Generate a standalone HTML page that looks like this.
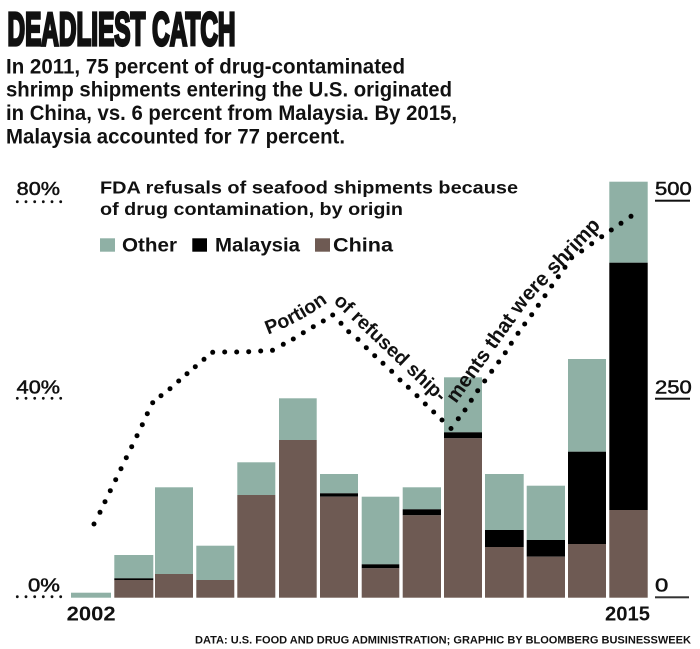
<!DOCTYPE html>
<html>
<head>
<meta charset="utf-8">
<style>
  html,body{margin:0;padding:0;background:#fff;}
  svg{display:block;}
  text{font-family:"Liberation Sans",sans-serif;fill:#111;}
</style>
</head>
<body>
<svg width="700" height="649" viewBox="0 0 700 649" xmlns="http://www.w3.org/2000/svg">
  <rect width="700" height="649" fill="#fff"/>

  <!-- Headline -->
  <text x="7.5" y="44.8" font-size="46" font-weight="bold" stroke="#111" stroke-width="3.2" stroke-linejoin="miter" textLength="228" lengthAdjust="spacingAndGlyphs">DEADLIEST CATCH</text>

  <!-- Subtitle -->
  <g font-size="21.5" font-weight="bold">
    <text x="6" y="73.3" textLength="399" lengthAdjust="spacingAndGlyphs">In 2011, 75 percent of drug-contaminated</text>
    <text x="6" y="96.7" textLength="446" lengthAdjust="spacingAndGlyphs">shrimp shipments entering the U.S. originated</text>
    <text x="6" y="120" textLength="451" lengthAdjust="spacingAndGlyphs">in China, vs. 6 percent from Malaysia. By 2015,</text>
    <text x="6" y="143.3" textLength="339" lengthAdjust="spacingAndGlyphs">Malaysia accounted for 77 percent.</text>
  </g>

  <!-- Bars -->
  <g>
    <rect x="71" y="592.7" width="40" height="5" fill="#8fb0a5"/>
    <rect x="114.3" y="555" width="39" height="23.3" fill="#8fb0a5"/>
    <rect x="114.3" y="578.3" width="39" height="1.9" fill="#000"/>
    <rect x="114.3" y="580" width="39" height="17.7" fill="#6e5a53"/>
    <rect x="155" y="487.3" width="38" height="86.7" fill="#8fb0a5"/>
    <rect x="155" y="574" width="38" height="23.7" fill="#6e5a53"/>
    <rect x="196.3" y="545.7" width="38" height="34.3" fill="#8fb0a5"/>
    <rect x="196.3" y="580" width="38" height="17.7" fill="#6e5a53"/>
    <rect x="237.3" y="462.3" width="38" height="32.7" fill="#8fb0a5"/>
    <rect x="237.3" y="495" width="38" height="102.7" fill="#6e5a53"/>
    <rect x="279" y="398.3" width="37.7" height="41.7" fill="#8fb0a5"/>
    <rect x="279" y="440" width="37.7" height="157.7" fill="#6e5a53"/>
    <rect x="320" y="474" width="38" height="19.3" fill="#8fb0a5"/>
    <rect x="320" y="493.3" width="38" height="3.4" fill="#000"/>
    <rect x="320" y="496.7" width="38" height="101" fill="#6e5a53"/>
    <rect x="361.7" y="496.7" width="37.6" height="67.6" fill="#8fb0a5"/>
    <rect x="361.7" y="564.3" width="37.6" height="4" fill="#000"/>
    <rect x="361.7" y="568.3" width="37.6" height="29.4" fill="#6e5a53"/>
    <rect x="402.7" y="487.3" width="38.3" height="22" fill="#8fb0a5"/>
    <rect x="402.7" y="509.3" width="38.3" height="6" fill="#000"/>
    <rect x="402.7" y="515.3" width="38.3" height="82.4" fill="#6e5a53"/>
    <rect x="444" y="377.3" width="38" height="55" fill="#8fb0a5"/>
    <rect x="444" y="432.3" width="38" height="6" fill="#000"/>
    <rect x="444" y="438.3" width="38" height="159.4" fill="#6e5a53"/>
    <rect x="485" y="474" width="38.7" height="56" fill="#8fb0a5"/>
    <rect x="485" y="530" width="38.7" height="17" fill="#000"/>
    <rect x="485" y="547" width="38.7" height="50.7" fill="#6e5a53"/>
    <rect x="526.7" y="485.7" width="38.3" height="54.3" fill="#8fb0a5"/>
    <rect x="526.7" y="540" width="38.3" height="16.7" fill="#000"/>
    <rect x="526.7" y="556.7" width="38.3" height="41" fill="#6e5a53"/>
    <rect x="568" y="359" width="38" height="92.7" fill="#8fb0a5"/>
    <rect x="568" y="451.7" width="38" height="92.3" fill="#000"/>
    <rect x="568" y="544" width="38" height="53.7" fill="#6e5a53"/>
    <rect x="609.3" y="181.7" width="38.4" height="81" fill="#8fb0a5"/>
    <rect x="609.3" y="262.7" width="38.4" height="247.3" fill="#000"/>
    <rect x="609.3" y="510" width="38.4" height="87.7" fill="#6e5a53"/>
  </g>

  <!-- Chart title -->
  <g font-size="17.5" font-weight="bold">
    <text x="100" y="193.3" textLength="418" lengthAdjust="spacingAndGlyphs">FDA refusals of seafood shipments because</text>
    <text x="100" y="215" textLength="303" lengthAdjust="spacingAndGlyphs">of drug contamination, by origin</text>
  </g>

  <!-- Legend -->
  <rect x="100" y="238.3" width="15" height="13.4" fill="#8fb0a5"/>
  <rect x="192.3" y="238.3" width="14.7" height="13.4" fill="#000"/>
  <rect x="315" y="238.3" width="15" height="13.4" fill="#6e5a53"/>
  <g font-size="19" font-weight="bold">
    <text x="122" y="251.7" textLength="55" lengthAdjust="spacingAndGlyphs">Other</text>
    <text x="215" y="251.7" textLength="85" lengthAdjust="spacingAndGlyphs">Malaysia</text>
    <text x="333" y="251.7" textLength="60" lengthAdjust="spacingAndGlyphs">China</text>
  </g>

  <!-- Left axis -->
  <g font-size="18.5" stroke="#111" stroke-width="0.5">
    <text x="16.7" y="195" textLength="43.3" lengthAdjust="spacingAndGlyphs">80%</text>
    <text x="16.7" y="393.3" textLength="43.3" lengthAdjust="spacingAndGlyphs">40%</text>
    <text x="28" y="591.7" textLength="32" lengthAdjust="spacingAndGlyphs">0%</text>
  </g>
  <g fill="#111">
    <circle cx="17.3" cy="201.7" r="1.4"/><circle cx="26" cy="201.7" r="1.4"/><circle cx="34.7" cy="201.7" r="1.4"/><circle cx="43.3" cy="201.7" r="1.4"/><circle cx="52" cy="201.7" r="1.4"/><circle cx="60.7" cy="201.7" r="1.4"/>
    <circle cx="17.3" cy="398.3" r="1.4"/><circle cx="26" cy="398.3" r="1.4"/><circle cx="34.7" cy="398.3" r="1.4"/><circle cx="43.3" cy="398.3" r="1.4"/><circle cx="52" cy="398.3" r="1.4"/><circle cx="60.7" cy="398.3" r="1.4"/>
    <circle cx="17.3" cy="596.7" r="1.4"/><circle cx="26" cy="596.7" r="1.4"/><circle cx="34.7" cy="596.7" r="1.4"/><circle cx="43.3" cy="596.7" r="1.4"/><circle cx="52" cy="596.7" r="1.4"/><circle cx="60.7" cy="596.7" r="1.4"/>
  </g>

  <!-- Right axis -->
  <g font-size="18.5" stroke="#111" stroke-width="0.5">
    <text x="655" y="195" textLength="36.7" lengthAdjust="spacingAndGlyphs">500</text>
    <text x="655" y="393.3" textLength="36.7" lengthAdjust="spacingAndGlyphs">250</text>
    <text x="655" y="591.7" textLength="13.3" lengthAdjust="spacingAndGlyphs">0</text>
  </g>
  <rect x="655" y="199.7" width="35" height="2" fill="#111"/>
  <rect x="655" y="397.7" width="35" height="2" fill="#111"/>
  <rect x="655" y="596.3" width="34" height="2" fill="#333"/>

  <!-- Dotted line -->
  <g fill="#000">
    <circle cx="94" cy="524" r="2.5"/><circle cx="100" cy="512.3" r="2.5"/><circle cx="105" cy="501.7" r="2.5"/><circle cx="110.3" cy="490.7" r="2.5"/><circle cx="115.7" cy="479.7" r="2.5"/><circle cx="121" cy="468.7" r="2.5"/><circle cx="126.3" cy="457.7" r="2.5"/><circle cx="131.7" cy="446.7" r="2.5"/><circle cx="137" cy="435.7" r="2.5"/><circle cx="142.3" cy="424.7" r="2.5"/><circle cx="147.3" cy="413.7" r="2.5"/><circle cx="152.7" cy="402.7" r="2.5"/>
    <circle cx="161" cy="395.7" r="2.5"/><circle cx="170" cy="388.7" r="2.5"/><circle cx="178.7" cy="381" r="2.5"/><circle cx="187" cy="373.7" r="2.5"/><circle cx="195.3" cy="366.7" r="2.5"/><circle cx="204" cy="359.3" r="2.5"/><circle cx="212.7" cy="352.3" r="2.5"/>
    <circle cx="224.7" cy="352" r="2.5"/><circle cx="236.7" cy="352" r="2.5"/><circle cx="248.7" cy="351.7" r="2.5"/><circle cx="260.7" cy="351" r="2.5"/><circle cx="272.5" cy="350.3" r="2.5"/>
    <circle cx="283.3" cy="344.3" r="2.5"/><circle cx="293.3" cy="339" r="2.5"/><circle cx="303.3" cy="332.7" r="2.5"/><circle cx="313.3" cy="326.7" r="2.5"/><circle cx="323.3" cy="321" r="2.5"/><circle cx="332.7" cy="315" r="2.5"/>
    <circle cx="341" cy="323.3" r="2.5"/><circle cx="348.7" cy="331.7" r="2.5"/><circle cx="358" cy="339.3" r="2.5"/><circle cx="366.3" cy="347.7" r="2.5"/><circle cx="374.7" cy="355.7" r="2.5"/><circle cx="383" cy="363.3" r="2.5"/><circle cx="391.7" cy="371.3" r="2.5"/><circle cx="400" cy="380" r="2.5"/><circle cx="408.3" cy="387.3" r="2.5"/><circle cx="417" cy="395.7" r="2.5"/><circle cx="425.3" cy="404" r="2.5"/><circle cx="433.7" cy="412" r="2.5"/><circle cx="442" cy="420" r="2.5"/><circle cx="451" cy="428.5" r="2.5"/>
    <circle cx="458.3" cy="418.7" r="2.5"/><circle cx="465" cy="410" r="2.5"/><circle cx="471.3" cy="400.3" r="2.5"/><circle cx="477.7" cy="390.7" r="2.5"/><circle cx="484.7" cy="381" r="2.5"/><circle cx="491.7" cy="371.3" r="2.5"/><circle cx="498.7" cy="362" r="2.5"/><circle cx="505.3" cy="352.7" r="2.5"/><circle cx="511.3" cy="343.3" r="2.5"/><circle cx="518" cy="333.3" r="2.5"/><circle cx="524.7" cy="324" r="2.5"/><circle cx="531.7" cy="314.7" r="2.5"/><circle cx="538.3" cy="305.3" r="2.5"/><circle cx="545" cy="295.7" r="2.5"/><circle cx="551.7" cy="286" r="2.5"/><circle cx="558.3" cy="276.7" r="2.5"/><circle cx="565" cy="267.3" r="2.5"/><circle cx="571.7" cy="257.7" r="2.5"/>
    <circle cx="581.7" cy="251" r="2.5"/><circle cx="591.7" cy="243.7" r="2.5"/><circle cx="601.7" cy="236.7" r="2.5"/><circle cx="611.3" cy="230" r="2.5"/><circle cx="621" cy="223.3" r="2.5"/><circle cx="631" cy="216.3" r="2.5"/>
  </g>

  <!-- Line labels -->
  <defs>
    <path id="p1" d="M268,334.5 Q300,323 331,300"/>
    <path id="p2" d="M333,302 L447,410"/>
    <path id="p3" d="M456,404 L529,302 L605,222"/>
  </defs>
  <g font-weight="bold">
    <text font-size="19.5"><textPath href="#p1">Portion</textPath></text>
    <text font-size="19.5"><textPath href="#p2">of refused ship-</textPath></text>
    <text font-size="20.5"><textPath href="#p3">ments that were shrimp</textPath></text>
  </g>

  <!-- Years -->
  <g font-size="20" font-weight="bold">
    <text x="66.7" y="620.7" textLength="49" lengthAdjust="spacingAndGlyphs">2002</text>
    <text x="605" y="620.7" textLength="45" lengthAdjust="spacingAndGlyphs">2015</text>
  </g>

  <!-- Footer -->
  <text x="195" y="643.3" font-size="11.3" font-weight="bold" fill="#222" textLength="496" lengthAdjust="spacingAndGlyphs">DATA: U.S. FOOD AND DRUG ADMINISTRATION; GRAPHIC BY BLOOMBERG BUSINESSWEEK</text>
</svg>
</body>
</html>
